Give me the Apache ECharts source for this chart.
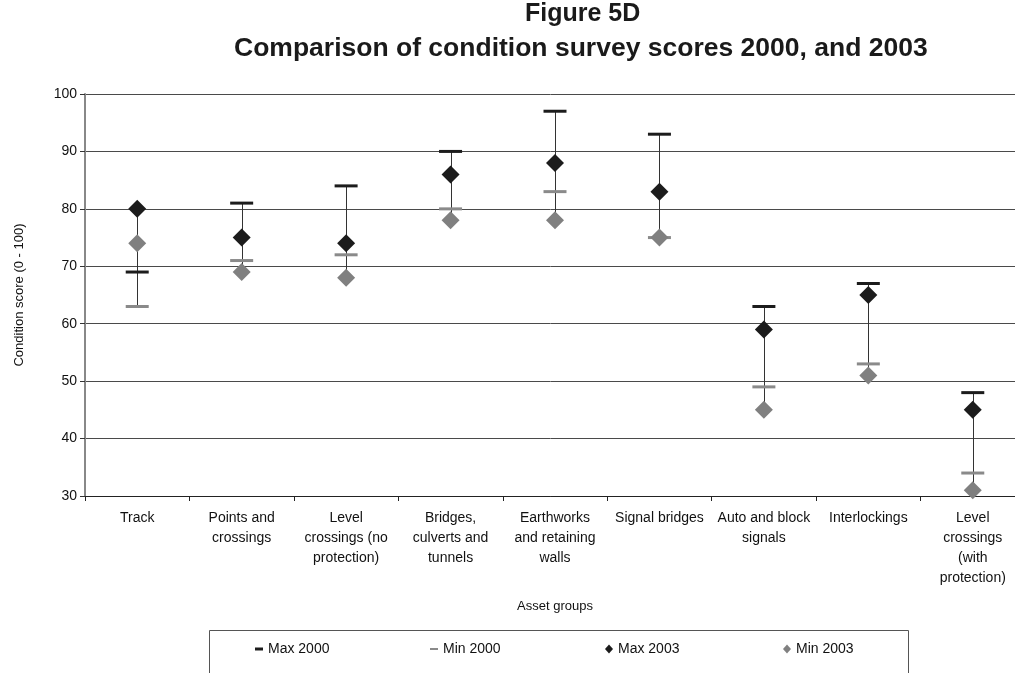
<!DOCTYPE html>
<html>
<head>
<meta charset="utf-8">
<script src="https://cdn.jsdelivr.net/npm/echarts@6/dist/echarts.min.js"></script>
<style>html,body{margin:0;padding:0;background:#fff}#c{width:1015px;height:673px}</style>
</head>
<body>
<div id="c"></div>
<script>
const categories = ['Track', 'Points and\ncrossings', 'Level\ncrossings (no\nprotection)', 'Bridges,\nculverts and\ntunnels', 'Earthworks\nand retaining\nwalls', 'Signal bridges', 'Auto and block\nsignals', 'Interlockings', 'Level\ncrossings\n(with\nprotection)'];
const max2000 = [69, 81, 84, 90, 97, 93, 63, 67, 48];
const min2000 = [63, 71, 72, 80, 83, 75, 49, 53, 34];
const max2003 = [80, 75, 74, 86, 88, 83, 59, 65, 45];
const min2003 = [74, 69, 68, 78, 78, 75, 45, 51, 31];
const yTicks = [30, 40, 50, 60, 70, 80, 90, 100];

const hiLow = categories.map((c, i) => {
  const vals = [max2000[i], min2000[i], max2003[i], min2003[i]];
  return [i, Math.min(...vals), Math.max(...vals)];
});

const FONT = 'Liberation Sans, Arial, sans-serif';
const chart = echarts.init(document.getElementById('c'), null, {renderer: 'canvas'});
const legendBase = {top: 642, padding: 0, itemGap: 4, textStyle: {fontFamily: FONT, fontSize: 14, color: '#111'}};
chart.setOption({
  animation: false,
  title: [
    {text: 'Figure 5D', top: 2, left: 525, padding: 0, textStyle: {fontFamily: FONT, fontSize: 25, fontWeight: 'bold', color: '#1a1a1a'}},
    {text: 'Comparison of condition survey scores 2000, and 2003', top: 35, left: 234, padding: 0, textStyle: {fontFamily: FONT, fontSize: 26.5, fontWeight: 'bold', color: '#1a1a1a'}}
  ],
  grid: {left: 85, width: 940, top: 94, bottom: 177, outerBoundsMode: 'none', containLabel: false},
  legend: [
    Object.assign({}, legendBase, {left: 255, data: [{name: 'Max 2000', icon: 'rect'}], itemWidth: 8, itemHeight: 3}),
    Object.assign({}, legendBase, {left: 430, data: [{name: 'Min 2000', icon: 'rect'}], itemWidth: 8, itemHeight: 2}),
    Object.assign({}, legendBase, {left: 605, data: [{name: 'Max 2003', icon: 'diamond'}], itemWidth: 8, itemHeight: 9}),
    Object.assign({}, legendBase, {left: 783, data: [{name: 'Min 2003', icon: 'diamond'}], itemWidth: 8, itemHeight: 9})
  ],
  graphic: [{
    type: 'rect', left: 207, top: 628, shape: {width: 699, height: 70},
    style: {fill: 'none', stroke: '#555', lineWidth: 1}, silent: true, z: -1
  }],
  xAxis: {
    type: 'category', data: categories, boundaryGap: true,
    name: 'Asset groups', nameLocation: 'middle', nameGap: 104,
    nameTextStyle: {fontFamily: FONT, fontSize: 13, color: '#111'},
    axisLine: {lineStyle: {color: '#222', width: 1}},
    axisTick: {show: true, length: 5, lineStyle: {color: '#222'}, alignWithLabel: false},
    axisLabel: {interval: 0, margin: 12, fontFamily: FONT, fontSize: 14, lineHeight: 20, color: '#111', align: 'center'}
  },
  yAxis: {
    type: 'value', min: 30, max: 100, interval: 10,
    name: 'Condition score (0 - 100)', nameLocation: 'middle', nameGap: 59, nameRotate: 90,
    nameTextStyle: {fontFamily: FONT, fontSize: 13, color: '#111'},
    axisLine: {show: true, lineStyle: {color: '#888', width: 2}},
    axisTick: {show: true, length: 5, lineStyle: {color: '#333'}},
    axisLabel: {margin: 8, fontFamily: FONT, fontSize: 14, color: '#111',
      formatter: v => yTicks.includes(v) ? String(v) : ''},
    splitLine: {show: true, lineStyle: {color: '#4a4a4a', width: 1}}
  },
  series: [
    {
      type: 'custom', name: 'hilo', data: hiLow, z: 1,
      encode: {x: 0, y: [1, 2]},
      renderItem: (params, api) => {
        const p1 = api.coord([api.value(0), api.value(1)]);
        const p2 = api.coord([api.value(0), api.value(2)]);
        return {type: 'line', shape: {x1: Math.round(p1[0]) + 0.5, y1: p1[1], x2: Math.round(p2[0]) + 0.5, y2: p2[1]},
          style: {stroke: '#333', lineWidth: 1}};
      }
    },
    {type: 'scatter', name: 'Max 2000', data: max2000, symbol: 'rect', symbolSize: [23, 3], itemStyle: {color: '#1c1c1c', opacity: 1}, z: 2},
    {type: 'scatter', name: 'Min 2000', data: min2000, symbol: 'rect', symbolSize: [23, 3], itemStyle: {color: '#8a8a8a', opacity: 1}, z: 2},
    {type: 'scatter', name: 'Max 2003', data: max2003, symbol: 'diamond', symbolSize: 18, itemStyle: {color: '#1c1c1c', opacity: 1}, z: 3},
    {type: 'scatter', name: 'Min 2003', data: min2003, symbol: 'diamond', symbolSize: 18, itemStyle: {color: '#808080', opacity: 1}, z: 3}
  ]
});
</script>
</body>
</html>
